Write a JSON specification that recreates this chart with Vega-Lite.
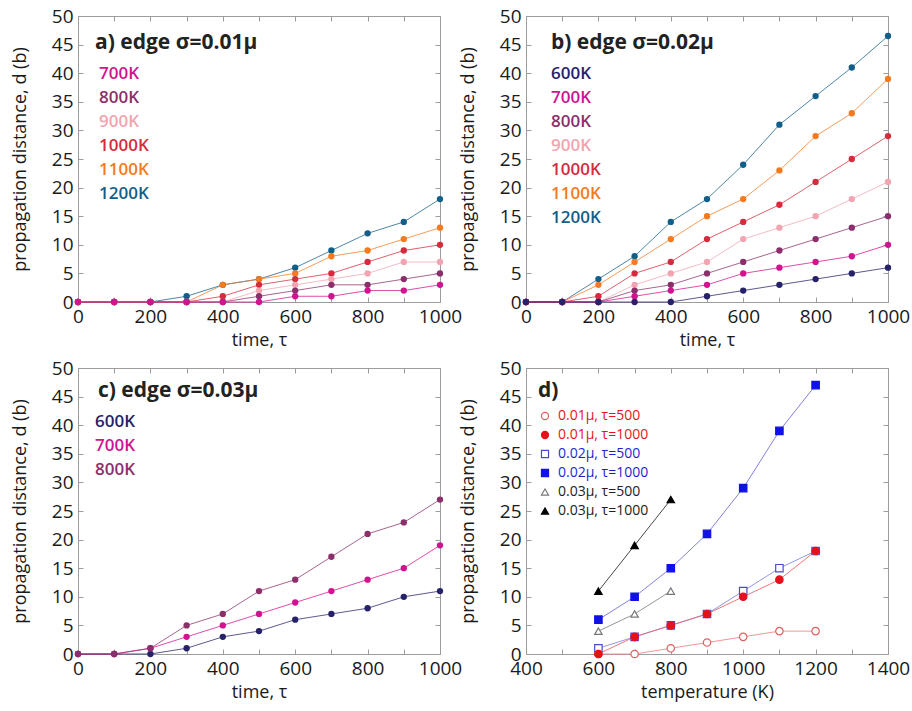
{
  "$schema": "https://vega.github.io/schema/vega-lite/v6.json",
  "background": "white",
  "padding": {"left": 10, "top": 6, "right": 0, "bottom": 5},
  "columns": 2,
  "bounds": "flush",
  "spacing": {"row": 66, "column": 86},
  "resolve": {"scale": {"x": "independent", "y": "independent", "color": "independent", "shape": "independent", "fill": "independent", "stroke": "independent"}},
  "datasets": {
    "sig1": [
      {"T":"1200K","t":0,"d":0},{"T":"1200K","t":100,"d":0},{"T":"1200K","t":200,"d":0},{"T":"1200K","t":300,"d":1},{"T":"1200K","t":400,"d":3},{"T":"1200K","t":500,"d":4},{"T":"1200K","t":600,"d":6},{"T":"1200K","t":700,"d":9},{"T":"1200K","t":800,"d":12},{"T":"1200K","t":900,"d":14},{"T":"1200K","t":1000,"d":18},
      {"T":"1100K","t":0,"d":0},{"T":"1100K","t":100,"d":0},{"T":"1100K","t":200,"d":0},{"T":"1100K","t":300,"d":0},{"T":"1100K","t":400,"d":3},{"T":"1100K","t":500,"d":4},{"T":"1100K","t":600,"d":5},{"T":"1100K","t":700,"d":8},{"T":"1100K","t":800,"d":9},{"T":"1100K","t":900,"d":11},{"T":"1100K","t":1000,"d":13},
      {"T":"1000K","t":0,"d":0},{"T":"1000K","t":100,"d":0},{"T":"1000K","t":200,"d":0},{"T":"1000K","t":300,"d":0},{"T":"1000K","t":400,"d":1},{"T":"1000K","t":500,"d":3},{"T":"1000K","t":600,"d":4},{"T":"1000K","t":700,"d":5},{"T":"1000K","t":800,"d":7},{"T":"1000K","t":900,"d":9},{"T":"1000K","t":1000,"d":10},
      {"T":"900K","t":0,"d":0},{"T":"900K","t":100,"d":0},{"T":"900K","t":200,"d":0},{"T":"900K","t":300,"d":0},{"T":"900K","t":400,"d":0},{"T":"900K","t":500,"d":2},{"T":"900K","t":600,"d":3},{"T":"900K","t":700,"d":4},{"T":"900K","t":800,"d":5},{"T":"900K","t":900,"d":7},{"T":"900K","t":1000,"d":7},
      {"T":"800K","t":0,"d":0},{"T":"800K","t":100,"d":0},{"T":"800K","t":200,"d":0},{"T":"800K","t":300,"d":0},{"T":"800K","t":400,"d":0},{"T":"800K","t":500,"d":1},{"T":"800K","t":600,"d":2},{"T":"800K","t":700,"d":3},{"T":"800K","t":800,"d":3},{"T":"800K","t":900,"d":4},{"T":"800K","t":1000,"d":5},
      {"T":"700K","t":0,"d":0},{"T":"700K","t":100,"d":0},{"T":"700K","t":200,"d":0},{"T":"700K","t":300,"d":0},{"T":"700K","t":400,"d":0},{"T":"700K","t":500,"d":0},{"T":"700K","t":600,"d":1},{"T":"700K","t":700,"d":1},{"T":"700K","t":800,"d":2},{"T":"700K","t":900,"d":2},{"T":"700K","t":1000,"d":3}
    ],
    "sig2": [
      {"T":"1200K","t":0,"d":0},{"T":"1200K","t":100,"d":0},{"T":"1200K","t":200,"d":4},{"T":"1200K","t":300,"d":8},{"T":"1200K","t":400,"d":14},{"T":"1200K","t":500,"d":18},{"T":"1200K","t":600,"d":24},{"T":"1200K","t":700,"d":31},{"T":"1200K","t":800,"d":36},{"T":"1200K","t":900,"d":41},{"T":"1200K","t":1000,"d":46.5},
      {"T":"1100K","t":0,"d":0},{"T":"1100K","t":100,"d":0},{"T":"1100K","t":200,"d":3},{"T":"1100K","t":300,"d":7},{"T":"1100K","t":400,"d":11},{"T":"1100K","t":500,"d":15},{"T":"1100K","t":600,"d":18},{"T":"1100K","t":700,"d":23},{"T":"1100K","t":800,"d":29},{"T":"1100K","t":900,"d":33},{"T":"1100K","t":1000,"d":39},
      {"T":"1000K","t":0,"d":0},{"T":"1000K","t":100,"d":0},{"T":"1000K","t":200,"d":1},{"T":"1000K","t":300,"d":5},{"T":"1000K","t":400,"d":7},{"T":"1000K","t":500,"d":11},{"T":"1000K","t":600,"d":14},{"T":"1000K","t":700,"d":17},{"T":"1000K","t":800,"d":21},{"T":"1000K","t":900,"d":25},{"T":"1000K","t":1000,"d":29},
      {"T":"900K","t":0,"d":0},{"T":"900K","t":100,"d":0},{"T":"900K","t":200,"d":0},{"T":"900K","t":300,"d":3},{"T":"900K","t":400,"d":5},{"T":"900K","t":500,"d":7},{"T":"900K","t":600,"d":11},{"T":"900K","t":700,"d":13},{"T":"900K","t":800,"d":15},{"T":"900K","t":900,"d":18},{"T":"900K","t":1000,"d":21},
      {"T":"800K","t":0,"d":0},{"T":"800K","t":100,"d":0},{"T":"800K","t":200,"d":0},{"T":"800K","t":300,"d":2},{"T":"800K","t":400,"d":3},{"T":"800K","t":500,"d":5},{"T":"800K","t":600,"d":7},{"T":"800K","t":700,"d":9},{"T":"800K","t":800,"d":11},{"T":"800K","t":900,"d":13},{"T":"800K","t":1000,"d":15},
      {"T":"700K","t":0,"d":0},{"T":"700K","t":100,"d":0},{"T":"700K","t":200,"d":0},{"T":"700K","t":300,"d":1},{"T":"700K","t":400,"d":2},{"T":"700K","t":500,"d":3},{"T":"700K","t":600,"d":5},{"T":"700K","t":700,"d":6},{"T":"700K","t":800,"d":7},{"T":"700K","t":900,"d":8},{"T":"700K","t":1000,"d":10},
      {"T":"600K","t":0,"d":0},{"T":"600K","t":100,"d":0},{"T":"600K","t":200,"d":0},{"T":"600K","t":300,"d":0},{"T":"600K","t":400,"d":0},{"T":"600K","t":500,"d":1},{"T":"600K","t":600,"d":2},{"T":"600K","t":700,"d":3},{"T":"600K","t":800,"d":4},{"T":"600K","t":900,"d":5},{"T":"600K","t":1000,"d":6}
    ],
    "sig3": [
      {"T":"600K","t":0,"d":0},{"T":"600K","t":100,"d":0},{"T":"600K","t":200,"d":0},{"T":"600K","t":300,"d":1},{"T":"600K","t":400,"d":3},{"T":"600K","t":500,"d":4},{"T":"600K","t":600,"d":6},{"T":"600K","t":700,"d":7},{"T":"600K","t":800,"d":8},{"T":"600K","t":900,"d":10},{"T":"600K","t":1000,"d":11},
      {"T":"700K","t":0,"d":0},{"T":"700K","t":100,"d":0},{"T":"700K","t":200,"d":1},{"T":"700K","t":300,"d":3},{"T":"700K","t":400,"d":5},{"T":"700K","t":500,"d":7},{"T":"700K","t":600,"d":9},{"T":"700K","t":700,"d":11},{"T":"700K","t":800,"d":13},{"T":"700K","t":900,"d":15},{"T":"700K","t":1000,"d":19},
      {"T":"800K","t":0,"d":0},{"T":"800K","t":100,"d":0},{"T":"800K","t":200,"d":1},{"T":"800K","t":300,"d":5},{"T":"800K","t":400,"d":7},{"T":"800K","t":500,"d":11},{"T":"800K","t":600,"d":13},{"T":"800K","t":700,"d":17},{"T":"800K","t":800,"d":21},{"T":"800K","t":900,"d":23},{"T":"800K","t":1000,"d":27}
    ],
    "temp": [
      {"s":"0.03μ, τ=1000","K":600,"d":11},{"s":"0.03μ, τ=1000","K":700,"d":19},{"s":"0.03μ, τ=1000","K":800,"d":27},
      {"s":"0.03μ, τ=500","K":600,"d":4},{"s":"0.03μ, τ=500","K":700,"d":7},{"s":"0.03μ, τ=500","K":800,"d":11},
      {"s":"0.02μ, τ=1000","K":600,"d":6},{"s":"0.02μ, τ=1000","K":700,"d":10},{"s":"0.02μ, τ=1000","K":800,"d":15},{"s":"0.02μ, τ=1000","K":900,"d":21},{"s":"0.02μ, τ=1000","K":1000,"d":29},{"s":"0.02μ, τ=1000","K":1100,"d":39},{"s":"0.02μ, τ=1000","K":1200,"d":47},
      {"s":"0.02μ, τ=500","K":600,"d":1},{"s":"0.02μ, τ=500","K":700,"d":3},{"s":"0.02μ, τ=500","K":800,"d":5},{"s":"0.02μ, τ=500","K":900,"d":7},{"s":"0.02μ, τ=500","K":1000,"d":11},{"s":"0.02μ, τ=500","K":1100,"d":15},{"s":"0.02μ, τ=500","K":1200,"d":18},
      {"s":"0.01μ, τ=500","K":600,"d":0},{"s":"0.01μ, τ=500","K":700,"d":0},{"s":"0.01μ, τ=500","K":800,"d":1},{"s":"0.01μ, τ=500","K":900,"d":2},{"s":"0.01μ, τ=500","K":1000,"d":3},{"s":"0.01μ, τ=500","K":1100,"d":4},{"s":"0.01μ, τ=500","K":1200,"d":4},
      {"s":"0.01μ, τ=1000","K":600,"d":0},{"s":"0.01μ, τ=1000","K":700,"d":3},{"s":"0.01μ, τ=1000","K":800,"d":5},{"s":"0.01μ, τ=1000","K":900,"d":7},{"s":"0.01μ, τ=1000","K":1000,"d":10},{"s":"0.01μ, τ=1000","K":1100,"d":13},{"s":"0.01μ, τ=1000","K":1200,"d":18}
    ]
  },
  "concat": [
    {
      "width": 362, "height": 286,
      "data": {"name": "sig1"},
      "resolve": {"axis": {"x": "independent", "y": "independent"}},
      "layer": [
        {
          "mark": {"type": "line", "strokeWidth": 1, "opacity": 0.75},
          "encoding": {
            "x": {"field": "t", "type": "quantitative", "scale": {"domain": [0, 1000], "nice": false},
                  "axis": {"title": "time, τ", "orient": "bottom", "format": "d", "values": [0,100,200,300,400,500,600,700,800,900,1000], "labelExpr": "datum.value % 200 === 0 ? datum.label : ''"}},
            "y": {"field": "d", "type": "quantitative", "scale": {"domain": [0, 50], "nice": false},
                  "axis": {"title": "propagation distance, d (b)", "orient": "left", "values": [0,5,10,15,20,25,30,35,40,45,50]}},
            "color": {"field": "T", "type": "nominal",
                      "scale": {"domain": ["700K","800K","900K","1000K","1100K","1200K"], "range": ["#d0138f","#8b2f6b","#f2a4b0","#d42b3d","#f47a20","#115e88"]},
                      "legend": {"title": "a) edge σ=0.01μ", "orient": "none", "legendX": 17, "legendY": 16, "labelOffset": -13}}
          }
        },
        {
          "mark": {"type": "point", "filled": true, "size": 40, "opacity": 1},
          "encoding": {
            "x": {"field": "t", "type": "quantitative", "scale": {"domain": [0, 1000], "nice": false},
                  "axis": {"title": null, "orient": "top", "labels": false, "values": [0,100,200,300,400,500,600,700,800,900,1000]}},
            "y": {"field": "d", "type": "quantitative", "scale": {"domain": [0, 50], "nice": false},
                  "axis": {"title": null, "orient": "right", "labels": false, "values": [0,5,10,15,20,25,30,35,40,45,50]}},
            "color": {"field": "T", "type": "nominal",
                      "scale": {"domain": ["700K","800K","900K","1000K","1100K","1200K"], "range": ["#d0138f","#8b2f6b","#f2a4b0","#d42b3d","#f47a20","#115e88"]},
                      "legend": {"title": "a) edge σ=0.01μ", "orient": "none", "legendX": 17, "legendY": 16, "labelOffset": -13}}
          }
        }
      ]
    },
    {
      "width": 362, "height": 286,
      "data": {"name": "sig2"},
      "resolve": {"axis": {"x": "independent", "y": "independent"}},
      "layer": [
        {
          "mark": {"type": "line", "strokeWidth": 1, "opacity": 0.75},
          "encoding": {
            "x": {"field": "t", "type": "quantitative", "scale": {"domain": [0, 1000], "nice": false},
                  "axis": {"title": "time, τ", "orient": "bottom", "format": "d", "values": [0,100,200,300,400,500,600,700,800,900,1000], "labelExpr": "datum.value % 200 === 0 ? datum.label : ''"}},
            "y": {"field": "d", "type": "quantitative", "scale": {"domain": [0, 50], "nice": false},
                  "axis": {"title": "propagation distance, d (b)", "orient": "left", "values": [0,5,10,15,20,25,30,35,40,45,50]}},
            "color": {"field": "T", "type": "nominal",
                      "scale": {"domain": ["600K","700K","800K","900K","1000K","1100K","1200K"], "range": ["#26226a","#d0138f","#8b2f6b","#f2a4b0","#d42b3d","#f47a20","#115e88"]},
                      "legend": {"title": "b) edge σ=0.02μ", "orient": "none", "legendX": 25, "legendY": 16, "labelOffset": -17}}
          }
        },
        {
          "mark": {"type": "point", "filled": true, "size": 40, "opacity": 1},
          "encoding": {
            "x": {"field": "t", "type": "quantitative", "scale": {"domain": [0, 1000], "nice": false},
                  "axis": {"title": null, "orient": "top", "labels": false, "values": [0,100,200,300,400,500,600,700,800,900,1000]}},
            "y": {"field": "d", "type": "quantitative", "scale": {"domain": [0, 50], "nice": false},
                  "axis": {"title": null, "orient": "right", "labels": false, "values": [0,5,10,15,20,25,30,35,40,45,50]}},
            "color": {"field": "T", "type": "nominal",
                      "scale": {"domain": ["600K","700K","800K","900K","1000K","1100K","1200K"], "range": ["#26226a","#d0138f","#8b2f6b","#f2a4b0","#d42b3d","#f47a20","#115e88"]},
                      "legend": {"title": "b) edge σ=0.02μ", "orient": "none", "legendX": 25, "legendY": 16, "labelOffset": -17}}
          }
        }
      ]
    },
    {
      "width": 362, "height": 286,
      "data": {"name": "sig3"},
      "resolve": {"axis": {"x": "independent", "y": "independent"}},
      "layer": [
        {
          "mark": {"type": "line", "strokeWidth": 1, "opacity": 0.75},
          "encoding": {
            "x": {"field": "t", "type": "quantitative", "scale": {"domain": [0, 1000], "nice": false},
                  "axis": {"title": "time, τ", "orient": "bottom", "format": "d", "values": [0,100,200,300,400,500,600,700,800,900,1000], "labelExpr": "datum.value % 200 === 0 ? datum.label : ''"}},
            "y": {"field": "d", "type": "quantitative", "scale": {"domain": [0, 50], "nice": false},
                  "axis": {"title": "propagation distance, d (b)", "orient": "left", "values": [0,5,10,15,20,25,30,35,40,45,50]}},
            "color": {"field": "T", "type": "nominal",
                      "scale": {"domain": ["600K","700K","800K"], "range": ["#26226a","#d0138f","#8b2f6b"]},
                      "legend": {"title": "c) edge σ=0.03μ", "orient": "none", "legendX": 20, "legendY": 12, "labelOffset": -20}}
          }
        },
        {
          "mark": {"type": "point", "filled": true, "size": 40, "opacity": 1},
          "encoding": {
            "x": {"field": "t", "type": "quantitative", "scale": {"domain": [0, 1000], "nice": false},
                  "axis": {"title": null, "orient": "top", "labels": false, "values": [0,100,200,300,400,500,600,700,800,900,1000]}},
            "y": {"field": "d", "type": "quantitative", "scale": {"domain": [0, 50], "nice": false},
                  "axis": {"title": null, "orient": "right", "labels": false, "values": [0,5,10,15,20,25,30,35,40,45,50]}},
            "color": {"field": "T", "type": "nominal",
                      "scale": {"domain": ["600K","700K","800K"], "range": ["#26226a","#d0138f","#8b2f6b"]},
                      "legend": {"title": "c) edge σ=0.03μ", "orient": "none", "legendX": 20, "legendY": 12, "labelOffset": -20}}
          }
        }
      ]
    },
    {
      "width": 362, "height": 286,
      "data": {"name": "temp"},
      "resolve": {"axis": {"x": "independent", "y": "independent"}},
      "layer": [
        {
          "mark": {"type": "line", "strokeWidth": 1, "opacity": 0.9},
          "encoding": {
            "x": {"field": "K", "type": "quantitative", "scale": {"domain": [400, 1400], "nice": false},
                  "axis": {"title": "temperature (K)", "orient": "bottom", "format": "d", "values": [400,500,600,700,800,900,1000,1100,1200,1300,1400], "labelExpr": "datum.value % 200 === 0 ? datum.label : ''"}},
            "y": {"field": "d", "type": "quantitative", "scale": {"domain": [0, 50], "nice": false},
                  "axis": {"title": "propagation distance, d (b)", "orient": "left", "values": [0,5,10,15,20,25,30,35,40,45,50]}},
            "stroke": {"field": "s", "type": "nominal", "legend": null,
                      "scale": {"domain": ["0.03μ, τ=1000","0.03μ, τ=500","0.02μ, τ=1000","0.02μ, τ=500","0.01μ, τ=1000","0.01μ, τ=500"],
                                "range": ["#333333","#8a8a8a","#7272d8","#8a8ae0","#e86a6a","#ec8c8c"]}}
          }
        },
        {
          "mark": {"type": "point", "filled": false, "size": 55, "strokeWidth": 1.2, "opacity": 1},
          "encoding": {
            "x": {"field": "K", "type": "quantitative", "scale": {"domain": [400, 1400], "nice": false},
                  "axis": {"title": null, "orient": "top", "labels": false, "values": [400,500,600,700,800,900,1000,1100,1200,1300,1400]}},
            "y": {"field": "d", "type": "quantitative", "scale": {"domain": [0, 50], "nice": false},
                  "axis": {"title": null, "orient": "right", "labels": false, "values": [0,5,10,15,20,25,30,35,40,45,50]}},
            "color": {"field": "s", "type": "nominal",
                       "scale": {"domain": ["0.01μ, τ=500","0.01μ, τ=1000","0.02μ, τ=500","0.02μ, τ=1000","0.03μ, τ=500","0.03μ, τ=1000"],
                                 "range": ["#e06060","#e8101a","#4a4ad0","#1010e8","#777777","#000000"]},
                       "legend": {"title": "d)", "orient": "none", "legendX": 12, "legendY": 12, "symbolSize": 50, "labelFontSize": 14, "labelFontWeight": "normal", "rowPadding": 5, "labelOffset": 6, "symbolOpacity": 1, "symbolStrokeWidth": 1.2, "titlePadding": 8}},
            "shape": {"field": "s", "type": "nominal",
                      "scale": {"domain": ["0.01μ, τ=500","0.01μ, τ=1000","0.02μ, τ=500","0.02μ, τ=1000","0.03μ, τ=500","0.03μ, τ=1000"],
                                "range": ["circle","circle","square","square","triangle-up","triangle-up"]},
                      "legend": {"title": "d)", "orient": "none", "legendX": 12, "legendY": 12, "symbolSize": 50, "labelFontSize": 14, "labelFontWeight": "normal", "rowPadding": 5, "labelOffset": 6, "symbolOpacity": 1, "symbolStrokeWidth": 1.2, "titlePadding": 8}},
            "fill": {"field": "s", "type": "nominal",
                     "scale": {"domain": ["0.01μ, τ=500","0.01μ, τ=1000","0.02μ, τ=500","0.02μ, τ=1000","0.03μ, τ=500","0.03μ, τ=1000"],
                               "range": ["#ffffff","#e8101a","#ffffff","#1010e8","#ffffff","#000000"]},
                     "legend": {"title": "d)", "orient": "none", "legendX": 12, "legendY": 12, "symbolSize": 50, "labelFontSize": 14, "labelFontWeight": "normal", "rowPadding": 5, "labelOffset": 6, "symbolOpacity": 1, "symbolStrokeWidth": 1.2, "titlePadding": 8}}
          }
        }
      ]
    }
  ],
  "config": {
    "font": "Open Sans",
    "view": {"stroke": "#9c9c9c", "strokeWidth": 1},
    "axis": {
      "domain": false, "grid": false, "labelFlush": false,
      "tickColor": "#9c9c9c", "tickSize": -5, "tickWidth": 1,
      "labelFont": "Open Sans", "labelFontSize": 19, "labelColor": "#1a1a1a", "labelPadding": 10,
      "titleFont": "Open Sans", "titleFontSize": 18, "titleFontWeight": "normal", "titleColor": "#1a1a1a"
    },
    "axisX": {"titlePadding": 5},
    "axisY": {"titlePadding": 22},
    "legend": {
      "titleFont": "Open Sans", "titleFontSize": 21, "titleFontWeight": "bold", "titleColor": "#222222", "titleLimit": 400, "titlePadding": 12,
      "labelFont": "Open Sans", "labelFontSize": 17, "labelFontWeight": 600, "labelOffset": 0, "rowPadding": 6,
      "symbolSize": 0, "symbolOpacity": 0, "symbolStrokeWidth": 0,
      "labelColor": {"expr": "datum.value === '600K' ? '#26226a' : datum.value === '700K' ? '#d0138f' : datum.value === '800K' ? '#8b2f6b' : datum.value === '900K' ? '#f2a4b0' : datum.value === '1000K' ? '#d42b3d' : datum.value === '1100K' ? '#f47a20' : datum.value === '1200K' ? '#115e88' : indexof(datum.value, '0.01') === 0 ? '#e8141c' : indexof(datum.value, '0.02') === 0 ? '#1f1fd0' : '#222222'"}
    }
  }
}
